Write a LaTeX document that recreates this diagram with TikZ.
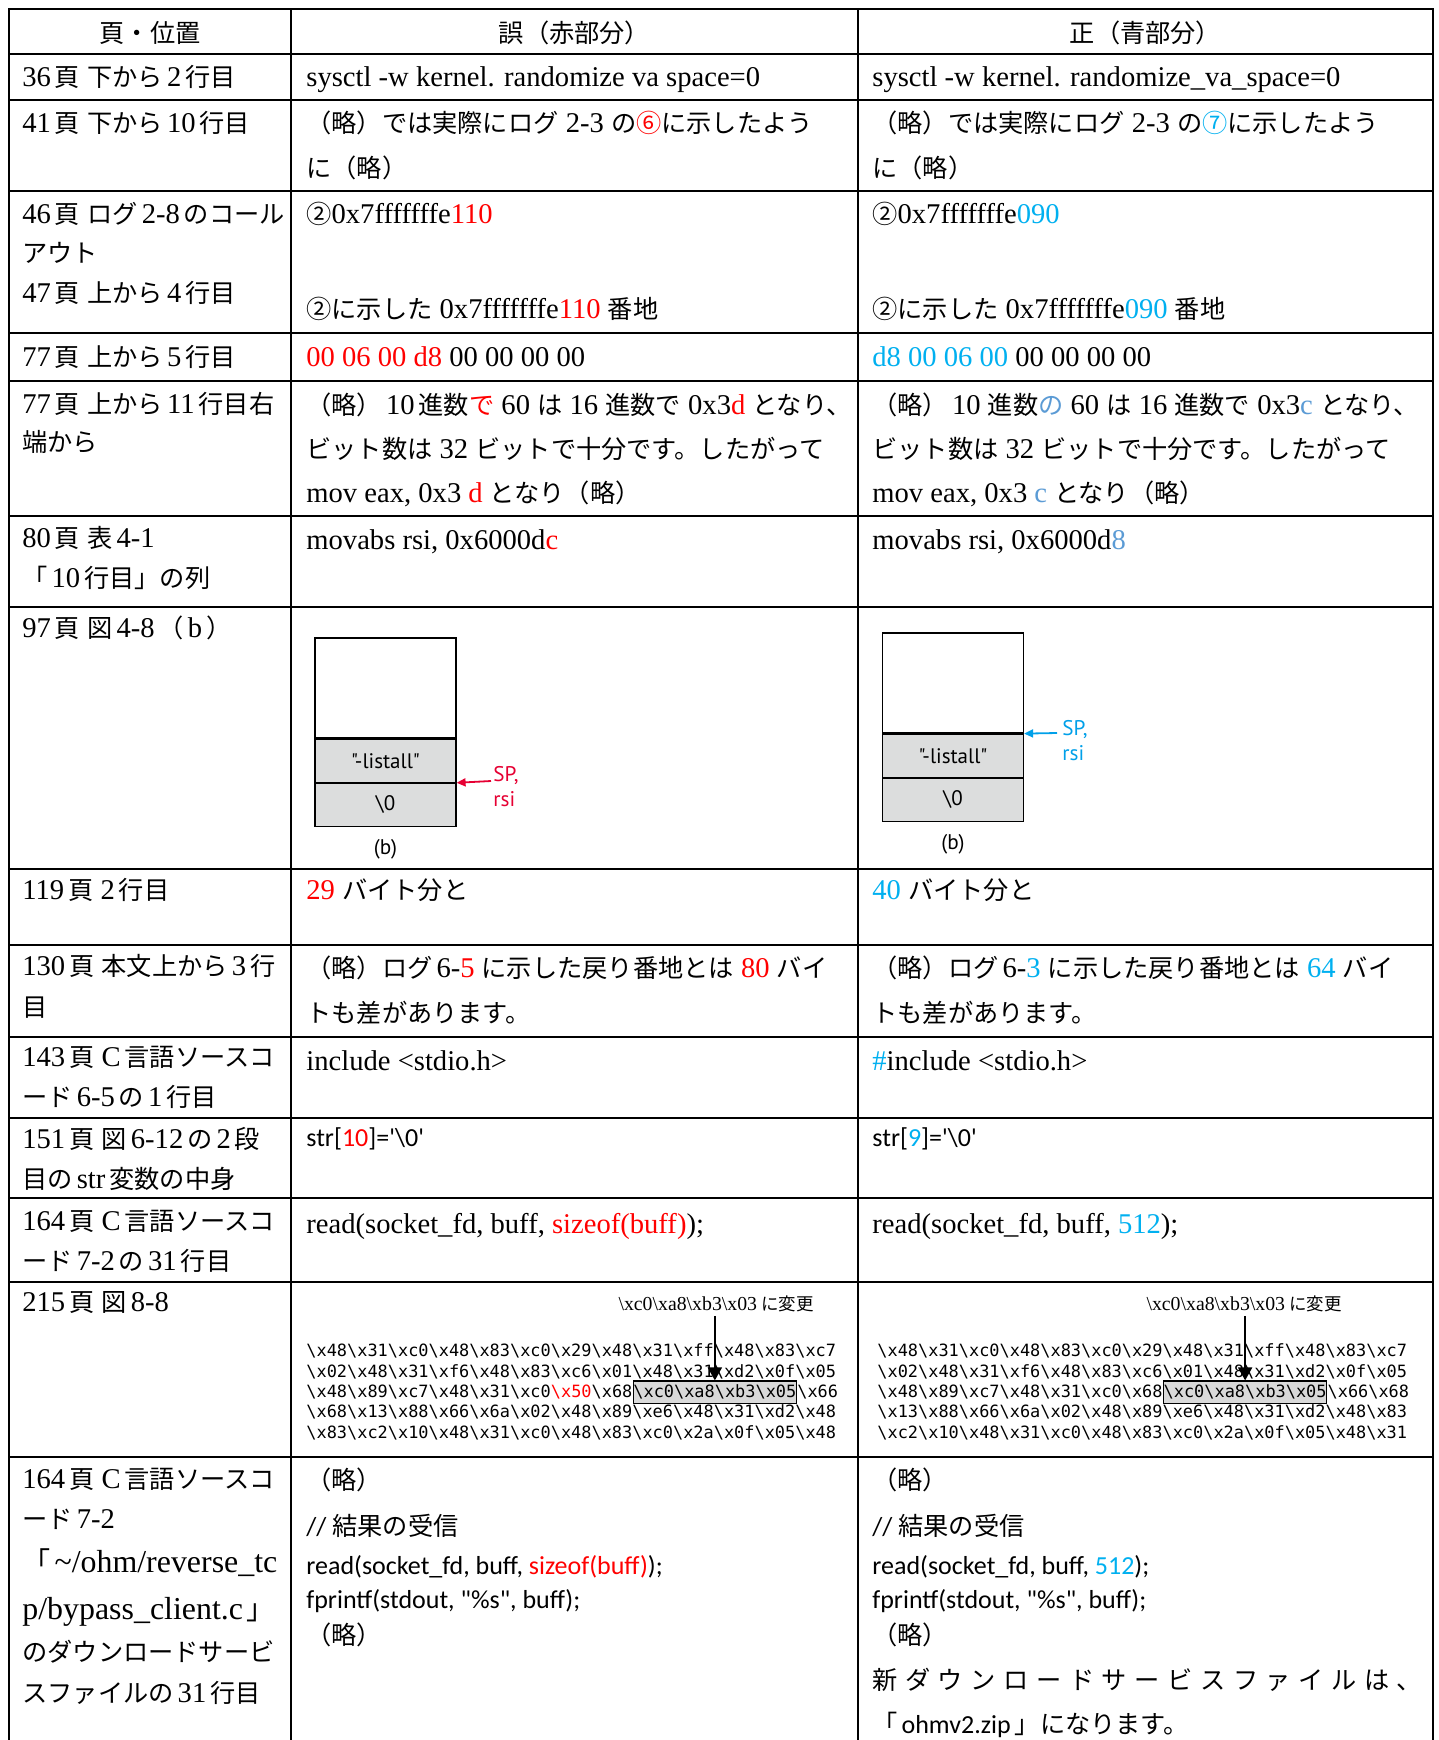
\documentclass[tikz,border=0pt]{standalone}
\usepackage{fontspec}
\usetikzlibrary{positioning,arrows.meta}
\setmainfont{Liberation Serif}[Scale=1.1]
\newfontfamily\jpfont{Noto Sans CJK JP}[Scale=0.97]
\newfontfamily\jpwide{Noto Sans CJK JP}[Scale=0.97,LetterSpace=30]
\newfontfamily\codefont{Carlito}
\newfontfamily\hexfont{DejaVu Sans Mono}
\newfontfamily\figfont{PT Sans}

\definecolor{errred}{HTML}{FF0000}
\definecolor{okcyan}{HTML}{00B0F0}
\definecolor{okblue}{HTML}{5B9BD5}
\definecolor{figred}{HTML}{E60033}
\definecolor{figblue}{HTML}{00A0E9}
\definecolor{slotgray}{HTML}{DCDDDD}
\definecolor{hexgray}{HTML}{D9D9D9}

\chardef\jpcls=10
\chardef\circcls=11
\newcount\jpc
\def\jprange#1#2#3{\jpc=#1\relax\loop\XeTeXcharclass\jpc=#3\relax\ifnum\jpc<#2\relax\advance\jpc by 1\repeat}
\jprange{"2460}{"24FF}{\circcls}
\jprange{"3000}{"30FF}{\jpcls}
\jprange{"4E00}{"9FFF}{\jpcls}
\jprange{"FF00}{"FFEF}{\jpcls}
\def\latinfont{\rmfamily}
\XeTeXinterchartoks 0 \jpcls = {\hskip2pt\jpfont}
\XeTeXinterchartoks 4095 \jpcls = {\jpfont}
\XeTeXinterchartoks \jpcls \jpcls = {\jpfont}
\XeTeXinterchartoks \jpcls 0 = {\hskip2pt\latinfont}
\XeTeXinterchartoks \jpcls 4095 = {\latinfont}
\XeTeXinterchartoks 0 \circcls = {\jpfont}
\XeTeXinterchartoks 4095 \circcls = {\jpfont}
\XeTeXinterchartoks \jpcls \circcls = {\jpfont}
\XeTeXinterchartoks \circcls \jpcls = {\jpfont}
\XeTeXinterchartoks \circcls 0 = {\latinfont}
\XeTeXinterchartoks \circcls 4095 = {\latinfont}
\XeTeXinterchartokenstate=1

\newcommand\hx[1]{\textbackslash x#1}
\newcommand\hexrow[1]{\foreach \hb in {#1}{\hx{\hb}}}

\begin{document}
\begin{tikzpicture}[x=0.5pt,y=-0.5pt,
    rule/.style={line width=1.1pt,line cap=rect},
    txt/.style={anchor=base west,inner sep=0pt,font=\fontsize{13}{16}\selectfont},
    head/.style={txt,anchor=base},
    code/.style={txt,font=\fontsize{13}{16}\selectfont\codefont\def\latinfont{\codefont}},
    hex/.style={txt,font=\fontsize{8.46}{10}\selectfont\hexfont\def\latinfont{\hexfont}},
    hexbox/.style={hex,draw,line width=0.6pt,fill=hexgray,inner ysep=1.6pt,text height=6.4pt,text depth=1.8pt},
    hexnote/.style={anchor=base,inner sep=2pt,font=\fontsize{9}{11}\selectfont},
    hexarrow/.style={line width=1pt,-{Triangle[length=6.5pt,width=7pt]}},
    slot/.style={draw,line width=0.6pt,minimum width=70.5pt,inner sep=0pt,font=\fontsize{10.5}{12}\selectfont\figfont},
    slotfill/.style={slot,fill=slotgray,minimum height=21.5pt},
    figtxt/.style={inner sep=0pt,font=\fontsize{10.6}{12.5}\selectfont\figfont\def\latinfont{\figfont}},
    sparrow/.style={line width=0.9pt,-{Triangle[length=4.5pt,width=4pt]}}]
\useasboundingbox (0,0) rectangle (1439,1740);
\fill[white] (0,0) rectangle (1439,1740);

\foreach \y in {9,54,100,191,333,381,516,607,869,945,1037,1118,1198,1282,1457}
    \draw[rule] (9,\y) -- (1433,\y);
\foreach \x in {9,291,858,1433}
    \draw[rule] (\x,9) -- (\x,1740);

\node[head] (h1) at (150,42) {頁・位置};
\node[head] (h2) at (574.5,42) {誤（赤部分）};
\node[head] (h3) at (1145.5,42) {正（青部分）};

\node[txt] (p1) at (22,86) {36頁 下から2行目};
\node[txt] (w1) at (306,86) {sysctl -w kernel. randomize va space=0};
\node[txt] (c1) at (872,86) {sysctl -w kernel. randomize\_va\_space=0};

\node[txt] (p2) at (22,132) {41頁 下から10行目};
\node[txt] (w2a) at (306,132) {（略）では実際にログ 2-3 の{\color{errred}⑥}に示したよう};
\node[txt] (w2b) at (306,177) {に（略）};
\node[txt] (c2a) at (872,132) {（略）では実際にログ 2-3 の{\color{okcyan}⑦}に示したよう};
\node[txt] (c2b) at (872,177) {に（略）};

\node[txt] (p3a) at (22,223) {46頁 ログ2-8のコール};
\node[txt] (p3b) at (22,262) {アウト};
\node[txt] (p3c) at (22,302) {47頁 上から4行目};
\node[txt] (w3a) at (306,223) {②0x7fffffffe{\color{errred}110}};
\node[txt] (w3b) at (306,318) {②に示した 0x7fffffffe{\color{errred}110} 番地};
\node[txt] (c3a) at (872,223) {②0x7fffffffe{\color{okcyan}090}};
\node[txt] (c3b) at (872,318) {②に示した 0x7fffffffe{\color{okcyan}090} 番地};

\node[txt] (p4) at (22,366) {77頁 上から5行目};
\node[txt] (w4) at (306,366) {{\color{errred}00 06 00 d8} 00 00 00 00};
\node[txt] (c4) at (872,366) {{\color{okcyan}d8 00 06 00} 00 00 00 00};

\node[txt] (p5a) at (22,413) {77頁 上から11行目右};
\node[txt] (p5b) at (22,451) {端から};
\node[txt] (w5a) at (306,414) {（略）10進数{\color{errred}で} 60 は 16 進数で 0x3{\color{errred}d} となり、};
\node[txt] (w5b) at (306,458) {ビット数は 32 ビットで十分です。したがって};
\node[txt] (w5c) at (306,502) {mov eax, 0x3 {\color{errred}d} となり（略）};
\node[txt] (c5a) at (872,414) {（略）10 進数{\color{okblue}の} 60 は 16 進数で 0x3{\color{okblue}c} となり、};
\node[txt] (c5b) at (872,458) {ビット数は 32 ビットで十分です。したがって};
\node[txt] (c5c) at (872,502) {mov eax, 0x3 {\color{okblue}c} となり（略）};

\node[txt] (p6a) at (22,547) {80頁 表4-1};
\node[txt] (p6b) at (22,587) {「10行目」の列};
\node[txt] (w6) at (306,549) {movabs rsi, 0x6000d{\color{errred}c}};
\node[txt] (c6) at (872,549) {movabs rsi, 0x6000d{\color{okblue}8}};

\node[txt] (p7) at (22,637) {97頁 図4-8（b）};
\node[slot,minimum height=50pt] (etop) at (385.5,688) {};
\node[slotfill,below=0pt of etop] (estr) {"-listall"};
\node[slotfill,below=0pt of estr] (enul) {\textbackslash 0};
\node[figtxt,below=6pt of enul] (ecap) {(b)};
\coordinate (esp) at (491,781);
\draw[sparrow,figred] (esp) -- (estr.south east);
\node[figtxt,text=figred,align=left,anchor=north west] (elbl) at (493,766) {SP,\\rsi};
\node[slot,minimum height=50pt] (ctop) at (953,683) {};
\node[slotfill,below=0pt of ctop] (cstr) {"-listall"};
\node[slotfill,below=0pt of cstr] (cnul) {\textbackslash 0};
\node[figtxt,below=6pt of cnul] (ccap) {(b)};
\coordinate (csp) at (1057,733);
\draw[sparrow,figblue] (csp) -- (cstr.north east);
\node[figtxt,text=figblue,align=left,anchor=north west] (clbl) at (1062,720) {SP,\\rsi};

\node[txt] (p8) at (22,899) {119頁 2行目};
\node[txt] (w8) at (306,899) {{\color{errred}29} バイト分と};
\node[txt] (c8) at (872,899) {{\color{okcyan}40} バイト分と};

\node[txt] (p9a) at (22,975) {130頁 本文上から3行};
\node[txt] (p9b) at (22,1016) {目};
\node[txt] (w9a) at (306,977) {（略）ログ6-{\color{errred}5} に示した戻り番地とは {\color{errred}80} バイ};
\node[txt] (w9b) at (306,1022) {トも差があります。};
\node[txt] (c9a) at (872,977) {（略）ログ6-{\color{okcyan}3} に示した戻り番地とは {\color{okcyan}64} バイ};
\node[txt] (c9b) at (872,1022) {トも差があります。};

\node[txt] (p10a) at (22,1066) {143頁 C言語ソースコ};
\node[txt] (p10b) at (22,1106) {ード6-5の1行目};
\node[txt] (w10) at (306,1070) {include <stdio.h>};
\node[txt] (c10) at (872,1070) {{\color{okcyan}\#}include <stdio.h>};

\node[txt] (p11a) at (22,1148) {151頁 図6-12の2段};
\node[txt] (p11b) at (22,1188) {目のstr変数の中身};
\node[code] (w11) at (306,1146) {str[{\color{errred}10}]='\textbackslash 0'};
\node[code] (c11) at (872,1146) {str[{\color{okcyan}9}]='\textbackslash 0'};

\node[txt] (p12a) at (22,1230) {164頁 C言語ソースコ};
\node[txt] (p12b) at (22,1270) {ード7-2の31行目};
\node[txt] (w12) at (306,1233) {read(socket\_fd, buff, {\color{errred}sizeof(buff)});};
\node[txt] (c12) at (872,1233) {read(socket\_fd, buff, {\color{okcyan}512});};

\node[txt] (p13) at (22,1311) {215頁 図8-8};
\node[hexnote] (enote) at (716,1310) {\hx{c0}\hx{a8}\hx{b3}\hx{03}に変更};
\node[hex] (eh1) at (306,1356) {\hexrow{48,31,c0,48,83,c0,29,48,31,ff,48,83,c7}};
\node[hex] (eh2) at (306,1377) {\hexrow{02,48,31,f6,48,83,c6,01,48,31,d2,0f,05}};
\node[hex] (eh3a) at (306,1397) {\hexrow{48,89,c7,48,31,c0}{\color{errred}\hx{50}}\hx{68}};
\node[hexbox] (eh3b) at (eh3a.base east) {\hexrow{c0,a8,b3,05}};
\node[hex] (eh3c) at (eh3b.base east) {\hx{66}};
\node[hex] (eh4) at (306,1417) {\hexrow{68,13,88,66,6a,02,48,89,e6,48,31,d2,48}};
\node[hex] (eh5) at (306,1438) {\hexrow{83,c2,10,48,31,c0,48,83,c0,2a,0f,05,48}};
\draw[hexarrow] (enote.south -| eh3b.north) -- (eh3b.north);
\node[hexnote] (cnote) at (1244,1310) {\hx{c0}\hx{a8}\hx{b3}\hx{03}に変更};
\node[hex] (ch1) at (877,1356) {\hexrow{48,31,c0,48,83,c0,29,48,31,ff,48,83,c7}};
\node[hex] (ch2) at (877,1377) {\hexrow{02,48,31,f6,48,83,c6,01,48,31,d2,0f,05}};
\node[hex] (ch3a) at (877,1397) {\hexrow{48,89,c7,48,31,c0,68}};
\node[hexbox] (ch3b) at (ch3a.base east) {\hexrow{c0,a8,b3,05}};
\node[hex] (ch3c) at (ch3b.base east) {\hexrow{66,68}};
\node[hex] (ch4) at (877,1417) {\hexrow{13,88,66,6a,02,48,89,e6,48,31,d2,48,83}};
\node[hex] (ch5) at (877,1438) {\hexrow{c2,10,48,31,c0,48,83,c0,2a,0f,05,48,31}};
\draw[hexarrow] (cnote.south -| ch3b.north) -- (ch3b.north);

\node[txt] (p14a) at (22,1488) {164頁 C言語ソースコ};
\node[txt] (p14b) at (22,1528) {ード7-2};
\node[txt,font=\fontsize{14.5}{17}\selectfont] (p14c) at (22,1572) {「\textasciitilde/ohm/reverse\_tc};
\node[txt,font=\fontsize{14.5}{17}\selectfont] (p14d) at (22,1619) {p/bypass\_client.c」};
\node[txt] (p14e) at (22,1661) {のダウンロードサービ};
\node[txt] (p14f) at (22,1702) {スファイルの31行目};
\node[txt] (w14a) at (306,1489) {（略）};
\node[code] (w14b) at (306,1535) {// 結果の受信};
\node[code] (w14c) at (306,1574) {read(socket\_fd, buff, {\color{errred}sizeof(buff)});};
\node[code] (w14d) at (306,1608) {fprintf(stdout, "\%s", buff);};
\node[txt] (w14e) at (306,1644) {（略）};
\node[txt] (c14a) at (872,1489) {（略）};
\node[code] (c14b) at (872,1535) {// 結果の受信};
\node[code] (c14c) at (872,1574) {read(socket\_fd, buff, {\color{okcyan}512});};
\node[code] (c14d) at (872,1608) {fprintf(stdout, "\%s", buff);};
\node[txt] (c14e) at (872,1644) {（略）};
\node[txt,font=\fontsize{13}{16}\selectfont\let\jpfont\jpwide] (c14f) at (872,1689) {新ダウンロードサービスファイルは、};
\node[code] (c14g) at (872,1733) {「ohmv2.zip」になります。};
\end{tikzpicture}
\end{document}
